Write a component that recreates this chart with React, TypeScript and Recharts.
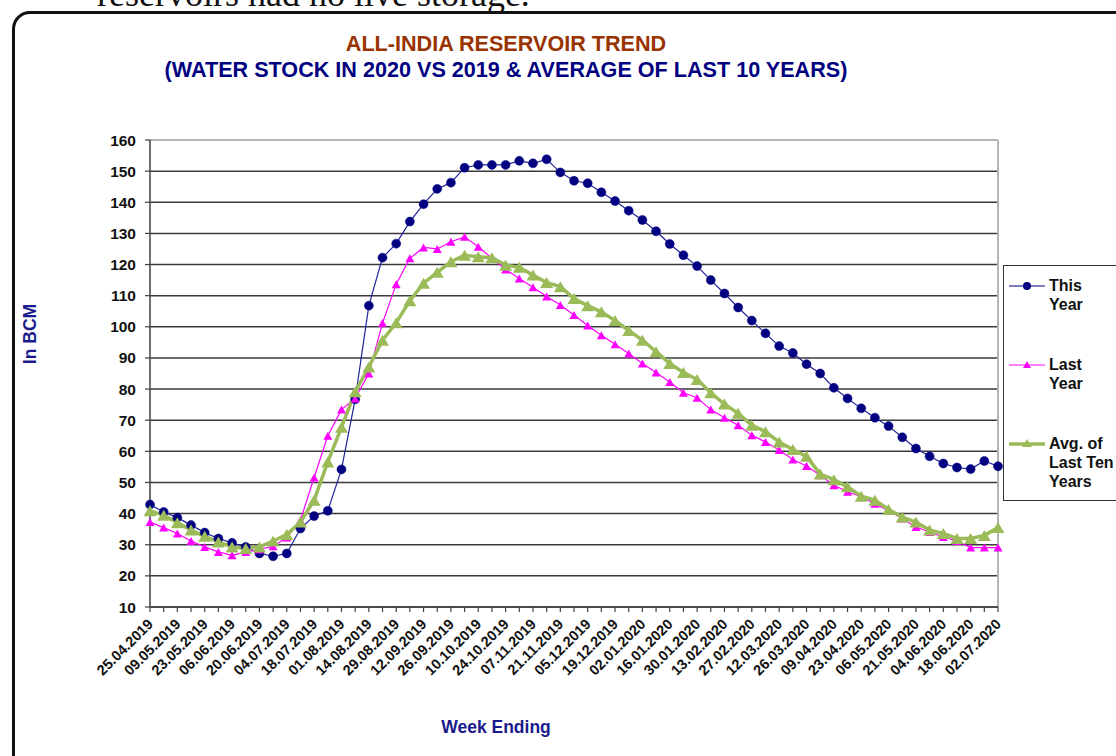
import React from "react";
import { LineChart, Line, XAxis, YAxis, CartesianGrid, ReferenceLine } from "recharts";

// week ending dates (labels shown on every other week)
const weeks = [
  "25.04.2019", "02.05.2019", "09.05.2019", "16.05.2019", "23.05.2019", "30.05.2019",
  "06.06.2019", "13.06.2019", "20.06.2019", "27.06.2019", "04.07.2019", "11.07.2019",
  "18.07.2019", "25.07.2019", "01.08.2019", "08.08.2019", "14.08.2019", "22.08.2019",
  "29.08.2019", "05.09.2019", "12.09.2019", "19.09.2019", "26.09.2019", "03.10.2019",
  "10.10.2019", "17.10.2019", "24.10.2019", "31.10.2019", "07.11.2019", "14.11.2019",
  "21.11.2019", "28.11.2019", "05.12.2019", "12.12.2019", "19.12.2019", "26.12.2019",
  "02.01.2020", "09.01.2020", "16.01.2020", "23.01.2020", "30.01.2020", "06.02.2020",
  "13.02.2020", "20.02.2020", "27.02.2020", "05.03.2020", "12.03.2020", "19.03.2020",
  "26.03.2020", "02.04.2020", "09.04.2020", "16.04.2020", "23.04.2020", "30.04.2020",
  "06.05.2020", "14.05.2020", "21.05.2020", "28.05.2020", "04.06.2020", "11.06.2020",
  "18.06.2020", "25.06.2020", "02.07.2020",
];

const thisYear = [
  42.9, 40.5, 38.7, 36.3, 33.9, 32.0, 30.6, 29.3, 27.2, 26.3,
  27.2, 35.2, 39.2, 40.9, 54.2, 76.7, 106.8, 122.2, 126.7, 133.8,
  139.4, 144.3, 146.3, 151.1, 152.0, 152.0, 152.0, 153.3, 152.5, 153.8,
  149.6, 146.9, 146.1, 143.2, 140.4, 137.3, 134.3, 130.7, 126.6, 123.0,
  119.5, 115.0, 110.7, 106.2, 102.0, 97.9, 93.8, 91.6, 88.0, 85.0,
  80.4, 77.0, 73.8, 70.8, 68.1, 64.5, 60.9, 58.4, 56.1, 54.8,
  54.3, 56.9, 55.2,
];

const lastYear = [
  37.3, 35.5, 33.6, 31.2, 29.3, 27.7, 26.6, 27.7, 28.5, 29.5,
  32.3, 37.9, 51.6, 65.0, 73.4, 77.0, 85.0, 101.2, 113.7, 122.0,
  125.5, 125.0, 127.3, 128.9, 125.7, 122.0, 118.4, 115.5, 112.7, 109.7,
  107.0, 103.8, 100.4, 97.3, 94.4, 91.4, 88.2, 85.3, 82.3, 78.8,
  77.2, 73.4, 70.8, 68.4, 65.2, 63.0, 60.4, 57.4, 55.3, 52.3,
  49.1, 47.0, 45.4, 43.2, 40.9, 38.4, 35.7, 34.1, 32.5, 31.2,
  29.1, 29.1, 29.1,
];

const avgTenYears = [
  40.9, 39.5, 37.1, 34.7, 32.7, 30.9, 29.3, 28.8, 29.3, 31.2,
  33.3, 37.3, 44.3, 56.6, 67.7, 79.1, 87.1, 95.7, 101.3, 108.4,
  114.0, 117.5, 120.9, 123.0, 122.5, 122.2, 119.8, 119.1, 116.6, 114.2,
  112.9, 109.1, 106.8, 104.8, 102.0, 98.8, 95.7, 92.0, 88.2, 85.3,
  83.1, 78.8, 75.2, 72.2, 68.4, 66.3, 63.0, 60.6, 58.4, 52.7,
  50.9, 48.6, 45.6, 44.3, 41.3, 38.9, 37.3, 34.7, 33.6, 32.0,
  32.0, 33.0, 35.5,
];

const yTicks = [10, 20, 30, 40, 50, 60, 70, 80, 90, 100, 110, 120, 130, 140, 150, 160];

const data = weeks.map((week, i) => ({
  week,
  thisYear: thisYear[i],
  lastYear: lastYear[i],
  avg: avgTenYears[i],
}));

const FONT = "'Liberation Sans', Arial, sans-serif";
const NAVY = "#000080";
const MAGENTA = "#ff00ff";
const GREEN = "#9bbb59";

function triangleDot(fill: string, half: number, h: number) {
  return (props: any) => {
    const { cx, cy, index } = props;
    if (cx == null || cy == null) return <g key={index} />;
    return (
      <polygon
        key={index}
        points={`${cx},${cy - h / 2} ${cx - half},${cy + h / 2} ${cx + half},${cy + h / 2}`}
        fill={fill}
      />
    );
  };
}

function WeekTick(props: any) {
  const { x, y, payload, index } = props;
  if (index % 2 !== 0) return <g />;
  const px = x + 4;
  const py = y + 11;
  return (
    <text
      x={px}
      y={py}
      transform={`rotate(-45 ${px} ${py})`}
      textAnchor="end"
      fontFamily={FONT}
      fontWeight="bold"
      fontSize={14.5}
      fill="#111"
    >
      {payload.value}
    </text>
  );
}

function ValueTick(props: any) {
  const { x, y, payload } = props;
  return (
    <text
      x={x}
      y={y}
      dy={5.5}
      textAnchor="end"
      fontFamily={FONT}
      fontWeight="bold"
      fontSize={15.5}
      fill="#111"
    >
      {payload.value}
    </text>
  );
}

function LegendItem({ kind, lines, top }: { kind: string; lines: string[]; top: number }) {
  return (
    <div style={{ position: "absolute", left: 4, top, display: "flex" }}>
      <svg width={38} height={20}>
        {kind === "this" && (
          <>
            <line x1={1} y1={10} x2={37} y2={10} stroke={NAVY} strokeWidth={1.2} />
            <circle cx={19} cy={10} r={4} fill={NAVY} />
          </>
        )}
        {kind === "last" && (
          <>
            <line x1={1} y1={10} x2={37} y2={10} stroke={MAGENTA} strokeWidth={1.2} />
            <polygon points="19,6 15,13 23,13" fill={MAGENTA} />
          </>
        )}
        {kind === "avg" && (
          <>
            <line x1={1} y1={10} x2={37} y2={10} stroke={GREEN} strokeWidth={3.5} />
            <polygon points="19,5 14,13 24,13" fill={GREEN} />
          </>
        )}
      </svg>
      <div style={{ marginLeft: 3, fontFamily: FONT, fontWeight: "bold", fontSize: 16, lineHeight: "19px", color: "#111" }}>
        {lines.map((l) => (
          <div key={l}>{l}</div>
        ))}
      </div>
    </div>
  );
}

export default function App() {
  return (
    <div style={{ position: "absolute", left: 0, top: 0, width: 1116, height: 756, overflow: "hidden", background: "#fff" }}>
      <div
        style={{
          position: "absolute",
          left: 97,
          top: -24,
          fontFamily: "'Liberation Serif', 'Times New Roman', serif",
          fontSize: 36,
          lineHeight: "36px",
          whiteSpace: "nowrap",
          color: "#111",
        }}
      >
        reservoirs had no live storage.
      </div>
      <div
        style={{
          position: "absolute",
          left: 12,
          top: 11,
          width: 1130,
          height: 770,
          border: "3px solid #111",
          borderTopLeftRadius: 18,
        }}
      />
      <div
        style={{
          position: "absolute",
          left: 0,
          top: 31,
          width: 1012,
          textAlign: "center",
          fontFamily: FONT,
          fontWeight: "bold",
          fontSize: 21.6,
          lineHeight: "26px",
        }}
      >
        <div style={{ color: "#993300" }}>ALL-INDIA RESERVOIR TREND</div>
        <div style={{ color: NAVY }}>(WATER STOCK IN 2020 VS 2019 &amp; AVERAGE OF LAST 10 YEARS)</div>
      </div>

      <div style={{ position: "absolute", left: 0, top: 0 }}>
        <LineChart width={1116} height={756} data={data} margin={{ top: 140, right: 118, bottom: 69, left: 110 }}>
          <CartesianGrid vertical={false} stroke="#3a3a3a" strokeWidth={1.5} />
          <XAxis
            dataKey="week"
            interval={0}
            height={80}
            tick={<WeekTick />}
            tickSize={5}
            tickMargin={2}
            axisLine={{ stroke: "#404040", strokeWidth: 1.5 }}
            tickLine={{ stroke: "#404040", strokeWidth: 1.2 }}
          />
          <YAxis
            width={40}
            domain={[10, 160]}
            ticks={yTicks}
            interval={0}
            tickSize={5}
            tickMargin={9}
            tick={<ValueTick />}
            axisLine={{ stroke: "#404040", strokeWidth: 1.5 }}
            tickLine={{ stroke: "#404040", strokeWidth: 1.2 }}
          />
          <ReferenceLine y={160} stroke="#b5b5b5" strokeWidth={2} />
          <ReferenceLine x="02.07.2020" stroke="#b5b5b5" strokeWidth={2} />
          <Line
            dataKey="thisYear"
            stroke="#22229a"
            strokeWidth={1.2}
            dot={{ r: 4.5, fill: NAVY, stroke: NAVY, strokeWidth: 0.5 }}
            isAnimationActive={false}
          />
          <Line
            dataKey="lastYear"
            stroke={MAGENTA}
            strokeWidth={1.2}
            dot={triangleDot(MAGENTA, 4.5, 8)}
            isAnimationActive={false}
          />
          <Line
            dataKey="avg"
            stroke={GREEN}
            strokeWidth={3.5}
            dot={triangleDot(GREEN, 6.5, 11)}
            isAnimationActive={false}
          />
        </LineChart>
      </div>

      <div
        style={{
          position: "absolute",
          left: 30,
          top: 334,
          transform: "translate(-50%, -50%) rotate(-90deg)",
          fontFamily: FONT,
          fontWeight: "bold",
          fontSize: 17.5,
          color: "#1a1a8c",
          whiteSpace: "nowrap",
        }}
      >
        In BCM
      </div>
      <div
        style={{
          position: "absolute",
          left: 0,
          top: 717,
          width: 992,
          textAlign: "center",
          fontFamily: FONT,
          fontWeight: "bold",
          fontSize: 17.5,
          lineHeight: "20px",
          color: "#1a1a8c",
        }}
      >
        Week Ending
      </div>

      <div
        style={{
          position: "absolute",
          left: 1003,
          top: 265,
          width: 140,
          height: 234,
          border: "1px solid #333",
          background: "#fff",
        }}
      >
        <LegendItem kind="this" lines={["This", "Year"]} top={10} />
        <LegendItem kind="last" lines={["Last", "Year"]} top={89} />
        <LegendItem kind="avg" lines={["Avg. of", "Last Ten", "Years"]} top={168} />
      </div>
    </div>
  );
}
